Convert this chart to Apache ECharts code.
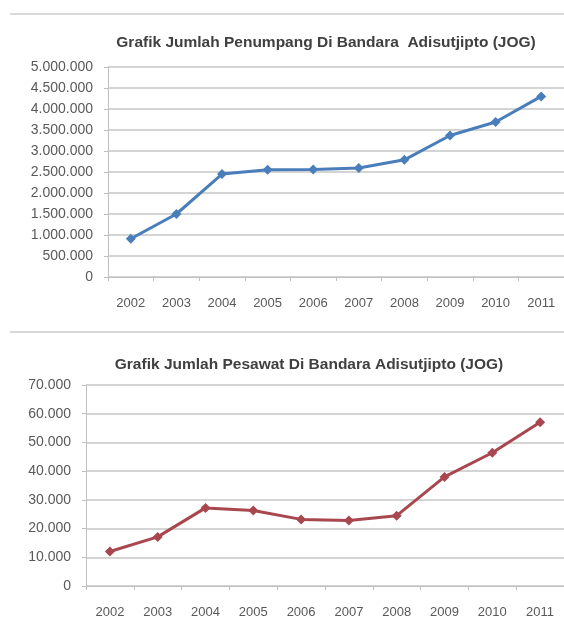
<!DOCTYPE html>
<html>
<head>
<meta charset="utf-8">
<script src="https://cdn.jsdelivr.net/npm/echarts@6/dist/echarts.min.js"></script>
<style>
  html, body { margin: 0; padding: 0; background: #ffffff; }
  #chart { width: 564px; height: 619px; }
</style>
</head>
<body>
<div id="chart"></div>
<script>
// data
const years = ["2002", "2003", "2004", "2005", "2006", "2007", "2008", "2009", "2010", "2011"];
const penumpang = [910000, 1500000, 2450000, 2555000, 2560000, 2595000, 2790000, 3370000, 3690000, 4300000];
const pesawat = [12000, 17100, 27200, 26300, 23200, 22800, 24500, 38000, 46400, 57000];
const titleTop = "Grafik Jumlah Penumpang Di Bandara  Adisutjipto (JOG)";
const titleBottom = "Grafik Jumlah Pesawat Di Bandara Adisutjipto (JOG)";

const font = "Liberation Sans";
const labelColor = "#595959";
const gridColor = "#d4d4d4";

function dots(v) {
  return String(v).replace(/\B(?=(\d{3})+(?!\d))/g, ".");
}

function xAxisFor(gridIndex) {
  return {
    type: "category",
    gridIndex: gridIndex,
    data: years,
    boundaryGap: true,
    axisLine: { lineStyle: { color: "#bfbfbf", width: 1 } },
    axisTick: { show: true, length: 4, lineStyle: { color: "#bfbfbf" } },
    axisLabel: { color: labelColor, fontFamily: font, fontSize: 13, margin: 20 },
  };
}

function yAxisFor(gridIndex, max, interval) {
  return {
    type: "value",
    gridIndex: gridIndex,
    min: 0,
    max: max,
    interval: interval,
    axisLine: { show: true, lineStyle: { color: "#bfbfbf", width: 1 } },
    axisTick: { show: true, length: 4, lineStyle: { color: "#bfbfbf" } },
    axisLabel: {
      color: labelColor,
      fontFamily: font,
      fontSize: 14,
      margin: 15,
      formatter: dots,
    },
    splitLine: { show: true, lineStyle: { color: gridColor, width: 2 } },
  };
}

const chart = echarts.init(document.getElementById("chart"), null, { renderer: "canvas" });

const option = {
  backgroundColor: "#ffffff",
  animation: false,
  title: [
    {
      text: titleTop,
      left: 321,
      top: 30,
      textAlign: "center",
      textStyle: { fontFamily: font, fontSize: 15.5, fontWeight: "bold", color: "#404040" },
    },
    {
      text: titleBottom,
      left: 304,
      top: 352,
      textAlign: "center",
      textStyle: { fontFamily: font, fontSize: 15.5, fontWeight: "bold", color: "#404040" },
    },
  ],
  graphic: [
    {
      type: "line",
      shape: { x1: 10, y1: 14, x2: 564, y2: 14 },
      style: { stroke: "#d9d9d9", lineWidth: 2 },
    },
    {
      type: "line",
      shape: { x1: 10, y1: 332, x2: 564, y2: 332 },
      style: { stroke: "#d9d9d9", lineWidth: 2 },
    },
  ],
  grid: [
    { left: 108, right: 0, top: 67, height: 210 },
    { left: 86, right: 0, top: 385, height: 202 },
  ],
  xAxis: [xAxisFor(0), xAxisFor(1)],
  yAxis: [yAxisFor(0, 5000000, 500000), yAxisFor(1, 70000, 10000)],
  series: [
    {
      name: "Penumpang",
      type: "line",
      xAxisIndex: 0,
      yAxisIndex: 0,
      data: penumpang,
      symbol: "diamond",
      symbolSize: 10,
      lineStyle: { color: "#4a7ebb", width: 3 },
      itemStyle: { color: "#4a7ebb" },
    },
    {
      name: "Pesawat",
      type: "line",
      xAxisIndex: 1,
      yAxisIndex: 1,
      data: pesawat,
      symbol: "diamond",
      symbolSize: 10,
      lineStyle: { color: "#a9474f", width: 3 },
      itemStyle: { color: "#a9474f" },
    },
  ],
};

chart.setOption(option);
</script>
</body>
</html>
